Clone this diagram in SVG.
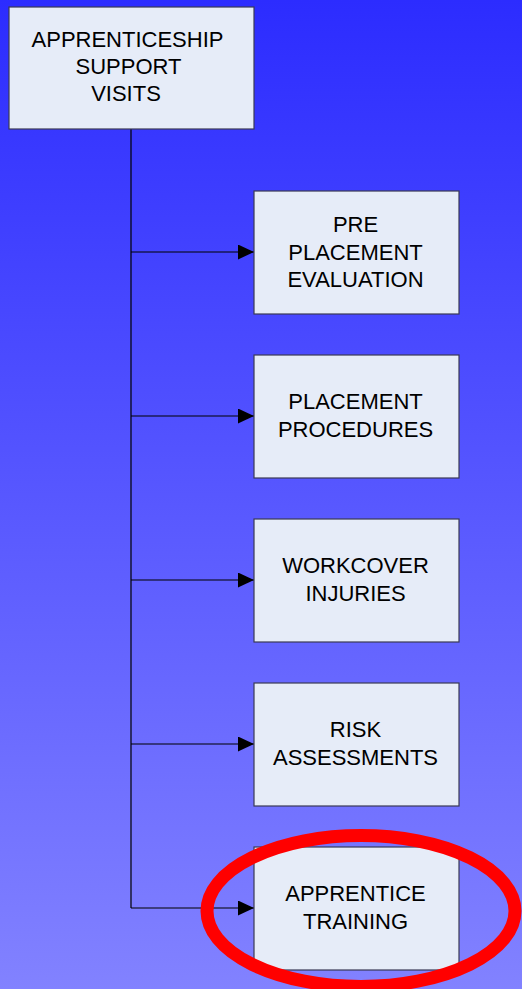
<svg xmlns="http://www.w3.org/2000/svg" width="522" height="989" viewBox="0 0 522 989">
<defs>
<linearGradient id="bg" x1="0" y1="0" x2="0" y2="1">
<stop offset="0" stop-color="#2C2CFF"/>
<stop offset="1" stop-color="#8282FF"/>
</linearGradient>
<marker id="arr" markerWidth="16" markerHeight="15" refX="16" refY="7.5" orient="auto" markerUnits="userSpaceOnUse">
<path d="M0,0 L16,7.5 L0,15 Z" fill="#000"/>
</marker>
<style>
.box{fill:#E6ECF8;stroke:#3A3A55;stroke-width:1.2}
.t{font-family:"Liberation Sans",Arial,sans-serif;font-size:22px;fill:#000;text-anchor:middle}
.c{stroke:#000;stroke-width:1.2;fill:none}
</style>
</defs>
<rect x="0" y="0" width="522" height="989" fill="url(#bg)"/>
<g id="connectors">
<path class="c" d="M131,129 V908"/>
<path class="c" d="M131,252 H254" marker-end="url(#arr)"/>
<path class="c" d="M131,416 H254" marker-end="url(#arr)"/>
<path class="c" d="M131,580 H254" marker-end="url(#arr)"/>
<path class="c" d="M131,744 H254" marker-end="url(#arr)"/>
<path class="c" d="M131,908 H254" marker-end="url(#arr)"/>
</g>
<g id="root">
<rect class="box" x="9" y="7" width="245" height="122"/>
<text class="t" x="127.5" y="47">APPRENTICESHIP</text>
<text class="t" x="128.5" y="74">SUPPORT</text>
<text class="t" x="126" y="101">VISITS</text>
</g>
<g id="pre-placement">
<rect class="box" x="254" y="191" width="205" height="123"/>
<text class="t" x="355.5" y="232">PRE</text>
<text class="t" x="355.5" y="260">PLACEMENT</text>
<text class="t" x="355.5" y="287">EVALUATION</text>
</g>
<g id="placement-procedures">
<rect class="box" x="254" y="355" width="205" height="123"/>
<text class="t" x="355.5" y="409">PLACEMENT</text>
<text class="t" x="355.5" y="437">PROCEDURES</text>
</g>
<g id="workcover">
<rect class="box" x="254" y="519" width="205" height="123"/>
<text class="t" x="355.5" y="573">WORKCOVER</text>
<text class="t" x="355.5" y="601">INJURIES</text>
</g>
<g id="risk">
<rect class="box" x="254" y="683" width="205" height="123"/>
<text class="t" x="355.5" y="737">RISK</text>
<text class="t" x="355.5" y="765">ASSESSMENTS</text>
</g>
<g id="apprentice-training">
<rect class="box" x="254" y="847" width="205" height="123"/>
<text class="t" x="355.5" y="901">APPRENTICE</text>
<text class="t" x="355.5" y="929">TRAINING</text>
</g>
<ellipse id="highlight" cx="361" cy="911" rx="154" ry="75.5" fill="none" stroke="#FF0000" stroke-width="13"/>
</svg>
